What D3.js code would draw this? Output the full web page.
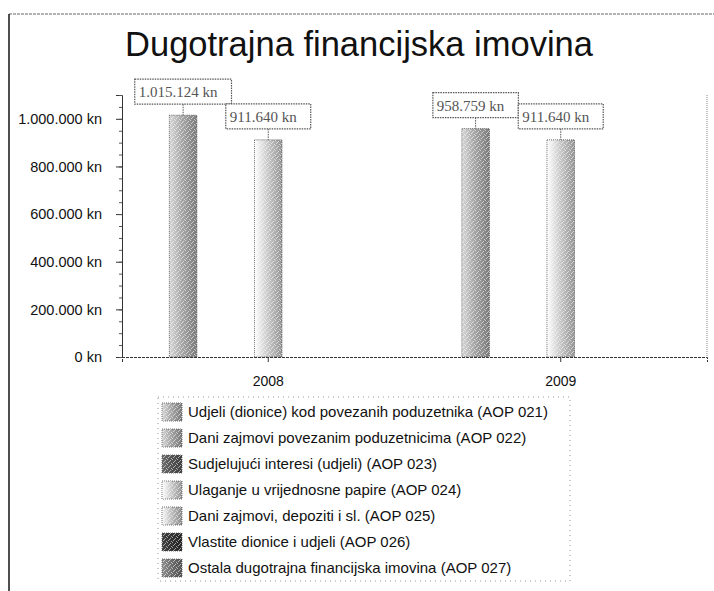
<!DOCTYPE html>
<html>
<head>
<meta charset="utf-8">
<script src="https://cdn.jsdelivr.net/npm/d3@7"></script>
<style>
  body { margin: 0; background: #fff; }
  svg { display: block; }
</style>
</head>
<body>
<div id="chart"></div>
<script>
// chart data
var years = ["2008", "2009"];
var seriesNames = [
  "Udjeli (dionice) kod povezanih poduzetnika (AOP 021)",
  "Dani zajmovi povezanim poduzetnicima (AOP 022)",
  "Sudjelujući interesi (udjeli) (AOP 023)",
  "Ulaganje u vrijednosne papire (AOP 024)",
  "Dani zajmovi, depoziti i sl. (AOP 025)",
  "Vlastite dionice i udjeli (AOP 026)",
  "Ostala dugotrajna financijska imovina (AOP 027)"
];
var values2008 = [1015124, 0, 0, 911640, 0, 0, 0];
var values2009 = [958759, 0, 0, 911640, 0, 0, 0];
var yTicks = [0, 200000, 400000, 600000, 800000, 1000000];
var seriesGrays = ["#a8a8a8", "#a6a6a6", "#555555", "#cdcdcd", "#c2c2c2", "#333333", "#707070"];

var width = 714, height = 591;
var plot = { left: 122, right: 707, top: 95, bottom: 357 };

var hr = d3.formatLocale({ decimal: ",", thousands: ".", grouping: [3], currency: ["", " kn"] });
var fmt = function (v) { return hr.format(",")(v) + " kn"; };

var svg = d3.select("#chart").append("svg")
  .attr("width", width)
  .attr("height", height);

var defs = svg.append("defs");

// grain pattern to imitate the scanned texture
var grain = defs.append("pattern")
  .attr("id", "grain")
  .attr("width", 5).attr("height", 5)
  .attr("patternUnits", "userSpaceOnUse");
[[0, 0], [3, 1], [1, 3], [4, 4], [2, 2]].forEach(function (p) {
  grain.append("rect").attr("x", p[0]).attr("y", p[1])
    .attr("width", 1).attr("height", 1).attr("fill", "#fff").attr("opacity", 0.55);
});

seriesGrays.forEach(function (c, i) {
  var g = defs.append("linearGradient")
    .attr("id", "grad" + i)
    .attr("x1", "0%").attr("x2", "100%").attr("y1", "0%").attr("y2", "0%");
  g.append("stop").attr("offset", "0%").attr("stop-color", d3.color(c).brighter(0.7));
  g.append("stop").attr("offset", "45%").attr("stop-color", c);
  g.append("stop").attr("offset", "100%").attr("stop-color", d3.color(c).darker(0.9));
});

// frame
svg.append("line")
  .attr("x1", 9).attr("x2", width).attr("y1", 14).attr("y2", 14)
  .attr("stroke", "#666").attr("stroke-width", 1.2).attr("stroke-dasharray", "3,1");
svg.append("line")
  .attr("x1", 9).attr("x2", 9).attr("y1", 14).attr("y2", height)
  .attr("stroke", "#222").attr("stroke-width", 1.6);

// title
svg.append("text")
  .attr("x", 359).attr("y", 56)
  .attr("text-anchor", "middle")
  .style("font-family", "'Liberation Sans', Arial, sans-serif")
  .style("font-size", "34.5px")
  .attr("fill", "#111")
  .text("Dugotrajna financijska imovina");

var x = d3.scaleBand()
  .domain(years)
  .range([plot.left, plot.right])
  .paddingInner(0.318)
  .paddingOuter(0.159);

var xs = d3.scaleBand()
  .domain(seriesNames)
  .range([0, x.bandwidth()])
  .padding(0.03);

var y = d3.scaleLinear()
  .domain([0, 1100000])
  .range([plot.bottom, plot.top]);

// plot area right border
svg.append("line")
  .attr("x1", plot.right).attr("x2", plot.right)
  .attr("y1", plot.top).attr("y2", plot.bottom)
  .attr("stroke", "#888").attr("stroke-dasharray", "1,1");

// bars
var rows = [];
years.forEach(function (yr, j) {
  var vals = j === 0 ? values2008 : values2009;
  vals.forEach(function (v, i) {
    if (v > 0) rows.push({ year: yr, series: seriesNames[i], idx: i, value: v });
  });
});

var bars = svg.append("g");
bars.selectAll("rect.bar")
  .data(rows)
  .enter()
  .append("rect")
  .attr("class", "bar")
  .attr("x", function (d) { return x(d.year) + xs(d.series); })
  .attr("y", function (d) { return y(d.value); })
  .attr("width", xs.bandwidth())
  .attr("height", function (d) { return plot.bottom - y(d.value); })
  .attr("fill", function (d) { return "url(#grad" + d.idx + ")"; })
  .attr("stroke", "#444")
  .attr("stroke-width", 0.8)
  .attr("stroke-dasharray", "1,1");
bars.selectAll("rect.grain")
  .data(rows)
  .enter()
  .append("rect")
  .attr("class", "grain")
  .attr("x", function (d) { return x(d.year) + xs(d.series); })
  .attr("y", function (d) { return y(d.value); })
  .attr("width", xs.bandwidth())
  .attr("height", function (d) { return plot.bottom - y(d.value); })
  .attr("fill", "url(#grain)");

// y axis
var yAxis = svg.append("g")
  .attr("transform", "translate(" + plot.left + ",0)")
  .call(d3.axisLeft(y).tickValues(yTicks).tickSize(6).tickPadding(14).tickFormat(fmt));
yAxis.select(".domain").attr("stroke", "#333");
yAxis.selectAll(".tick line").attr("stroke", "#333");
yAxis.selectAll(".tick text")
  .style("font-family", "'Liberation Sans', Arial, sans-serif")
  .style("font-size", "14.5px")
  .attr("fill", "#111");

var minor = svg.append("g")
  .attr("transform", "translate(" + plot.left + ",0)")
  .call(d3.axisLeft(y).ticks(22).tickSize(3).tickFormat(""));
minor.select(".domain").remove();
minor.selectAll(".tick line").attr("stroke", "#555");

// x axis
var xAxis = svg.append("g")
  .attr("transform", "translate(0," + plot.bottom + ")")
  .call(d3.axisBottom(x).tickSize(5).tickPadding(14));
xAxis.select(".domain").attr("stroke", "#333").attr("stroke-dasharray", "3,1");
xAxis.selectAll(".tick line").attr("stroke", "#333");
xAxis.selectAll(".tick text")
  .style("font-family", "'Liberation Sans', Arial, sans-serif")
  .style("font-size", "14px")
  .attr("fill", "#111");

// data labels with boxes and leader lines
var labels = svg.append("g");
rows.forEach(function (d) {
  var cx = x(d.year) + xs(d.series) + xs.bandwidth() / 2;
  var top = y(d.value);
  var boxBottom = top - 11, boxH = 25;
  var t = labels.append("text")
    .attr("y", boxBottom - 7)
    .style("font-family", "'Liberation Serif', 'Times New Roman', serif")
    .style("font-size", "15px")
    .attr("fill", "#555")
    .text(fmt(d.value));
  var tw = t.node().getComputedTextLength();
  var bw = tw + 18;
  t.attr("x", cx - bw / 2 + 4);
  labels.insert("rect", "text")
    .attr("x", cx - bw / 2).attr("y", boxBottom - boxH)
    .attr("width", bw).attr("height", boxH)
    .attr("fill", "#fff")
    .attr("stroke", "#555").attr("stroke-width", 1.2)
    .attr("stroke-dasharray", "1.5,1");
  labels.append("line")
    .attr("x1", cx).attr("x2", cx)
    .attr("y1", boxBottom).attr("y2", top)
    .attr("stroke", "#555").attr("stroke-dasharray", "1.5,1");
});

// legend
var legendBox = { x: 158, y: 397, w: 412, h: 184 };
svg.append("rect")
  .attr("x", legendBox.x).attr("y", legendBox.y)
  .attr("width", legendBox.w).attr("height", legendBox.h)
  .attr("fill", "none")
  .attr("stroke", "#999").attr("stroke-dasharray", "1,4");

var legend = svg.append("g")
  .attr("transform", "translate(" + 162 + "," + 412 + ")");

var item = legend.selectAll("g")
  .data(seriesNames)
  .enter()
  .append("g")
  .attr("transform", function (d, i) { return "translate(0," + i * 26 + ")"; });

item.append("rect")
  .attr("x", 0).attr("y", -9)
  .attr("width", 20).attr("height", 18)
  .attr("fill", function (d, i) { return "url(#grad" + i + ")"; })
  .attr("stroke", "#555").attr("stroke-width", 0.8).attr("stroke-dasharray", "1,1");
item.append("rect")
  .attr("x", 0).attr("y", -9)
  .attr("width", 20).attr("height", 18)
  .attr("fill", "url(#grain)");

item.append("text")
  .attr("x", 26)
  .attr("dy", "0.35em")
  .style("font-family", "'Liberation Sans', Arial, sans-serif")
  .style("font-size", "15px")
  .attr("fill", "#111")
  .text(function (d) { return d; });
</script>
</body>
</html>
